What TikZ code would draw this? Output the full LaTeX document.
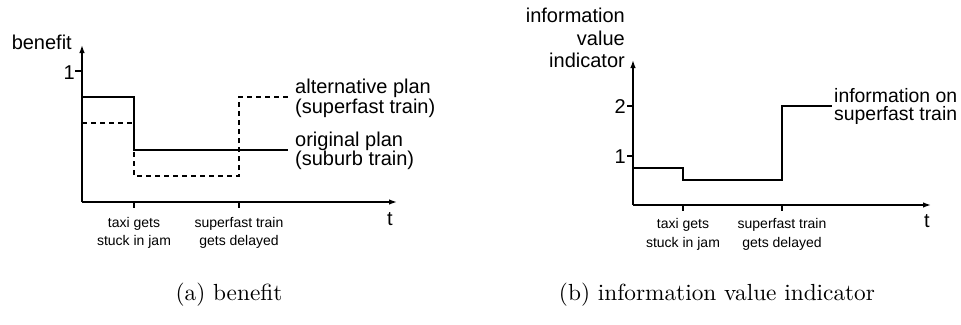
\documentclass[tikz,border=0pt]{standalone}
\usepackage{fontspec}
\setsansfont{Liberation Sans}
\newfontfamily\capfont{lmroman10-regular.otf}
\usetikzlibrary{arrows.meta}
\tikzset{
  axisline/.style={line width=1.4pt, -{Latex[length=8pt,width=5.5pt]}},
  plotline/.style={line width=1.4pt},
  dplotline/.style={line width=1.4pt, dash pattern=on 5pt off 4pt},
  tickline/.style={line width=1.2pt},
  lbl/.style={font=\sffamily\fontsize{20}{20}\selectfont, inner sep=0pt},
  small/.style={font=\sffamily\fontsize{14}{14}\selectfont, inner sep=0pt, anchor=base},
  caption/.style={font=\capfont\fontsize{23.3}{23.3}\selectfont, inner sep=0pt, anchor=base},
}
\begin{document}
\begin{tikzpicture}[x=1pt,y=-1pt]
\useasboundingbox (0,0) rectangle (961,324);
% ---------- (a) benefit ----------
\coordinate (Oa) at (82,202);
\coordinate (Ya) at (82,45);
\coordinate (Xa) at (397,202);
\draw[axisline] (Oa) -- (Ya);
\draw[axisline] (Oa) -- (Xa);
\node[lbl, anchor=base east] (benefit) at (72,49) {benefit};
\coordinate (a1l) at (75,71); \coordinate (a1r) at (82,71);
\draw[tickline] (a1l) -- (a1r);
\node[lbl, anchor=base east] (one_a) at (75,79) {1};
\coordinate (ta1) at (134,202); \coordinate (tb1) at (134,208);
\coordinate (ta2) at (239,202); \coordinate (tb2) at (239,208);
\draw[tickline] (ta1) -- (tb1);
\draw[tickline] (ta2) -- (tb2);
\node[small] (taxia) at (134,227) {taxi gets};
\node[small] (stucka) at (134,245) {stuck in jam};
\node[small] (supa) at (239,227) {superfast train};
\node[small] (dela) at (239,245) {gets delayed};
\node[lbl, anchor=base] (ta) at (390,225) {t};
% original plan
\coordinate (s0) at (82,97); \coordinate (s1) at (134,97);
\coordinate (s2) at (134,150); \coordinate (s3) at (288,150);
\draw[plotline] (s0) -- (s1) -- (s2) -- (s3);
% alternative plan
\coordinate (d0) at (82,123); \coordinate (d1) at (134,123);
\coordinate (d2) at (134,176); \coordinate (d3) at (239,176);
\coordinate (d4) at (239,97); \coordinate (d5) at (288,97);
\draw[dplotline] (d0) -- (d1) -- (d2) -- (d3) -- (d4) -- (d5);
\node[lbl, anchor=base west] (alt1) at (295,93) {alternative plan};
\node[lbl, anchor=base west] (alt2) at (295,113) {(superfast train)};
\node[lbl, anchor=base west] (orig1) at (295,146) {original plan};
\node[lbl, anchor=base west] (orig2) at (295,165) {(suburb train)};
% ---------- (b) information value indicator ----------
\coordinate (Ob) at (633,205);
\coordinate (Yb) at (633,60);
\coordinate (Xb) at (931,205);
\draw[axisline] (Ob) -- (Yb);
\draw[axisline] (Ob) -- (Xb);
\node[lbl, anchor=base east] (yb1) at (625,23) {information};
\node[lbl, anchor=base east] (yb2) at (625,45) {value};
\node[lbl, anchor=base east] (yb3) at (625,67) {indicator};
\coordinate (b2l) at (627,106); \coordinate (b2r) at (633,106);
\coordinate (b1l) at (627,156); \coordinate (b1r) at (633,156);
\draw[tickline] (b2l) -- (b2r);
\draw[tickline] (b1l) -- (b1r);
\node[lbl, anchor=base east] (two_b) at (626,113) {2};
\node[lbl, anchor=base east] (one_b) at (626,163) {1};
\coordinate (tc1) at (683,205); \coordinate (td1) at (683,211);
\coordinate (tc2) at (782,205); \coordinate (td2) at (782,211);
\draw[tickline] (tc1) -- (td1);
\draw[tickline] (tc2) -- (td2);
\node[small] (taxib) at (683,228) {taxi gets};
\node[small] (stuckb) at (683,247) {stuck in jam};
\node[small] (supb) at (782,228) {superfast train};
\node[small] (delb) at (782,247) {gets delayed};
\node[lbl, anchor=base] (tb) at (927,227) {t};
\coordinate (i0) at (633,168); \coordinate (i1) at (683,168);
\coordinate (i2) at (683,180); \coordinate (i3) at (782,180);
\coordinate (i4) at (782,106); \coordinate (i5) at (832,106);
\draw[plotline] (i0) -- (i1) -- (i2) -- (i3) -- (i4) -- (i5);
\node[lbl, font=\sffamily\fontsize{19.4}{19.4}\selectfont, anchor=base west] (inf1) at (834,102) {information on};
\node[lbl, font=\sffamily\fontsize{19.4}{19.4}\selectfont, anchor=base west] (inf2) at (834,120) {superfast train};
% ---------- captions ----------
\node[caption] (capa) at (229,300) {(a) benefit};
\node[caption] (capb) at (717,300) {(b) information value indicator};
\end{tikzpicture}
\end{document}
